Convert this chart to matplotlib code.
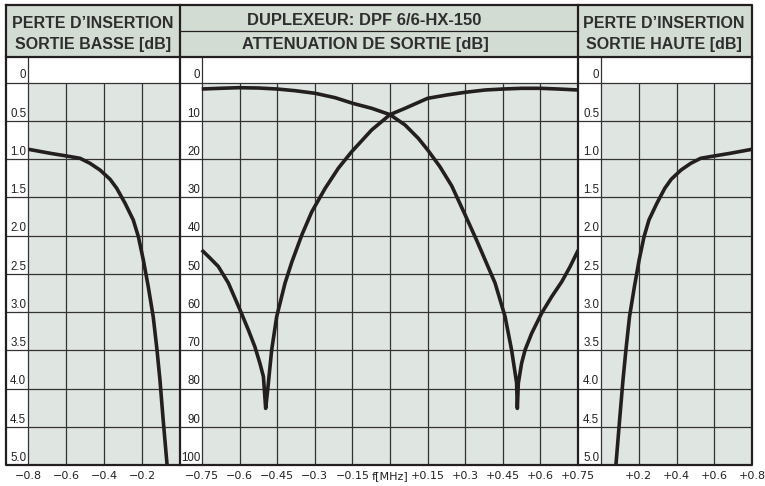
import numpy as np
import matplotlib
matplotlib.use("Agg")
import matplotlib.pyplot as plt

# Data
# left panel: insertion loss, low output [dB] vs f offset [MHz]
low_f = [-0.798, -0.684, -0.596, -0.526, -0.474, -0.421, -0.368, -0.333, -0.289,
         -0.246, -0.219, -0.193, -0.167, -0.141, -0.121, -0.105, -0.089, -0.068]
low_db = [0.873, 0.925, 0.961, 0.991, 1.056, 1.144, 1.265, 1.383, 1.579,
          1.797, 2.016, 2.32, 2.669, 3.061, 3.497, 3.902, 4.399, 5.0]

# right panel: insertion loss, high output [dB]
high_f = [0.8, 0.686, 0.598, 0.528, 0.476, 0.424, 0.372, 0.338, 0.296,
          0.254, 0.228, 0.202, 0.177, 0.151, 0.132, 0.116, 0.099, 0.079]
high_db = [0.873, 0.925, 0.961, 0.991, 1.056, 1.144, 1.265, 1.383, 1.579,
           1.797, 2.016, 2.32, 2.669, 3.061, 3.497, 3.902, 4.399, 5.0]

# middle panel: output attenuation [dB]
att_a_f = [-0.751, -0.678, -0.605, -0.525, -0.451, -0.379, -0.299, -0.219, -0.149, -0.073,
           0.0, 0.06, 0.113, 0.15, 0.199, 0.246, 0.299, 0.346, 0.392, 0.419, 0.459, 0.485,
           0.505, 0.508, 0.512, 0.525, 0.539, 0.565, 0.605, 0.645, 0.685, 0.718, 0.751]
att_a_db = [1.7, 1.52, 1.36, 1.44, 1.7, 2.14, 2.82, 3.97, 5.44, 6.75,
            8.4, 11.1, 14.6, 17.6, 22.0, 27.0, 34.5, 41.3, 48.3, 52.4, 61.2, 69.9,
            78.5, 85.2, 78.6, 73.4, 69.9, 65.6, 60.3, 56.0, 52.1, 48.2, 43.8]
att_b_f = [-0.751, -0.718, -0.685, -0.645, -0.598, -0.565, -0.539, -0.519, -0.505, -0.496,
           -0.488, -0.472, -0.452, -0.419, -0.392, -0.352, -0.312, -0.259, -0.206, -0.153,
           -0.073, 0.0, 0.06, 0.15, 0.226, 0.299, 0.379, 0.452, 0.525, 0.601, 0.671, 0.751]
att_b_db = [43.8, 45.9, 48.1, 52.4, 59.5, 64.7, 69.1, 73.4, 76.9, 85.2,
            80.4, 69.9, 61.2, 52.5, 47.0, 39.9, 33.8, 27.7, 22.4, 18.1,
            12.4, 8.4, 6.75, 4.14, 3.27, 2.57, 1.96, 1.7, 1.52, 1.52, 1.7, 1.96]

ins_ticks = [0, 0.5, 1.0, 1.5, 2.0, 2.5, 3.0, 3.5, 4.0, 4.5, 5.0]
ins_labels = ["0", "0.5", "1.0", "1.5", "2.0", "2.5", "3.0", "3.5", "4.0", "4.5", "5.0"]
att_ticks = [0, 10, 20, 30, 40, 50, 60, 70, 80, 90, 100]
att_labels = [str(v) for v in att_ticks]

low_xticks = [-0.8, -0.6, -0.4, -0.2]
low_xlabels = ["\u22120.8", "\u22120.6", "\u22120.4", "\u22120.2"]
mid_xticks = [-0.75, -0.6, -0.45, -0.3, -0.15, 0, 0.15, 0.3, 0.45, 0.6, 0.75]
mid_xlabels = ["\u22120.75", "\u22120.6", "\u22120.45", "\u22120.3", "\u22120.15", "f[MHz]",
               "+0.15", "+0.3", "+0.45", "+0.6", "+0.75"]
high_xticks = [0.2, 0.4, 0.6, 0.8]
high_xlabels = ["+0.2", "+0.4", "+0.6", "+0.8"]

# colours / style
GRID_BG = "#dfe5e0"
HEAD_BG = "#d3dcd3"
INK = "#231f20"
GRIDC = "#333333"

W, H = 765, 486
fig = plt.figure(figsize=(W / 100, H / 100), dpi=100)
fig.patch.set_facecolor("white")

# layout in pixels
TOP, HEAD_BOT, ZERO_Y, BOT = 5, 57, 82.5, 465
LEFT, DIV1, DIV2, RIGHT = 6, 180, 578, 752


def make_panel(px0, px1, gx0, x_lo, x_hi, y_max, yt, ylab, xt, xlab):
    # axes spanning label column + grid, data mapping fixed by gray area
    ax = fig.add_axes([px0 / W, (H - BOT) / H, (px1 - px0) / W, (BOT - HEAD_BOT) / H])
    sx = (x_hi - x_lo) / (px1 - gx0)
    sy = y_max / (BOT - ZERO_Y)
    xmin = x_lo - (gx0 - px0) * sx
    ymin = -(ZERO_Y - HEAD_BOT) * sy
    ax.set_xlim(xmin, x_hi)
    ax.set_ylim(y_max, ymin)
    ax.set_facecolor("white")
    ax.fill_between([x_lo, x_hi], 0, y_max, color=GRID_BG, lw=0, zorder=0)
    ax.hlines(yt, xmin, x_hi, color=GRIDC, lw=0.9, zorder=1)
    ax.vlines([x for x in xt if x_lo < x < x_hi] + ([0.0] if x_lo < 0 < x_hi and 0 not in xt else []),
              0, y_max, color=GRIDC, lw=0.9, zorder=1)
    ax.vlines(x_lo, ymin, y_max, color=GRIDC, lw=0.9, zorder=1)
    for v, s in zip(yt, ylab):
        ax.annotate(s, (x_lo, v), xytext=(-1.2, 0.8), textcoords="offset points",
                    ha="right", va="bottom", fontsize=8.3, color="#222222",
                    family="Liberation Sans")
    ax.set_xticks(xt)
    ax.set_xticklabels(xlab)
    ax.set_yticks([])
    ax.tick_params(axis="x", length=0, pad=4.5, labelsize=8, colors="#222222")
    for sp in ax.spines.values():
        sp.set_visible(False)
    return ax


ax_l = make_panel(LEFT, DIV1, 28, -0.8, 0.0, 5.0, ins_ticks, ins_labels, low_xticks, low_xlabels)
ax_m = make_panel(DIV1, DIV2, 202, -0.75, 0.75, 100, att_ticks, att_labels, mid_xticks, mid_xlabels)
ax_r = make_panel(DIV2, RIGHT, 601, 0.0, 0.8, 5.0, ins_ticks, ins_labels, high_xticks, high_xlabels)

curve_kw = dict(color=INK, lw=2.6, solid_capstyle="butt", solid_joinstyle="round", zorder=3)
ax_l.plot(low_f, low_db, **curve_kw)
ax_r.plot(high_f, high_db, **curve_kw)
ax_m.plot(att_a_f, att_a_db, **curve_kw)
ax_m.plot(att_b_f, att_b_db, **curve_kw)

# overlay for header and frame (pixel coordinates)
ov = fig.add_axes([0, 0, 1, 1], zorder=10)
ov.set_xlim(0, W)
ov.set_ylim(H, 0)
ov.axis("off")
ov.patch.set_alpha(0)
ov.fill_between([LEFT, RIGHT], TOP, HEAD_BOT, color=HEAD_BG, lw=0)
ov.plot([LEFT, RIGHT, RIGHT, LEFT, LEFT], [TOP, TOP, BOT, BOT, TOP], color=INK, lw=1.6)
ov.plot([LEFT, RIGHT], [HEAD_BOT, HEAD_BOT], color=INK, lw=1.6)
ov.plot([DIV1, DIV1], [TOP, BOT], color=INK, lw=1.6)
ov.plot([DIV2, DIV2], [TOP, BOT], color=INK, lw=1.6)
ov.plot([DIV1, DIV2], [31, 31], color=INK, lw=0.9)

hk = dict(ha="center", va="center", fontweight="bold", color="#2e2e2e",
          family="Liberation Sans")
ov.text(93, 24, "PERTE D\u2019INSERTION", fontsize=11.5, **hk)
ov.text(93, 45, "SORTIE BASSE [dB]", fontsize=11.5, **hk)
ov.text(364, 20.5, "DUPLEXEUR: DPF 6/6-HX-150", fontsize=11.9, **hk)
ov.text(365, 44.5, "ATTENUATION DE SORTIE [dB]", fontsize=11.9, **hk)
ov.text(664, 24, "PERTE D\u2019INSERTION", fontsize=11.5, **hk)
ov.text(664, 45, "SORTIE HAUTE [dB]", fontsize=11.5, **hk)

fig.savefig("out.png", dpi=100)
